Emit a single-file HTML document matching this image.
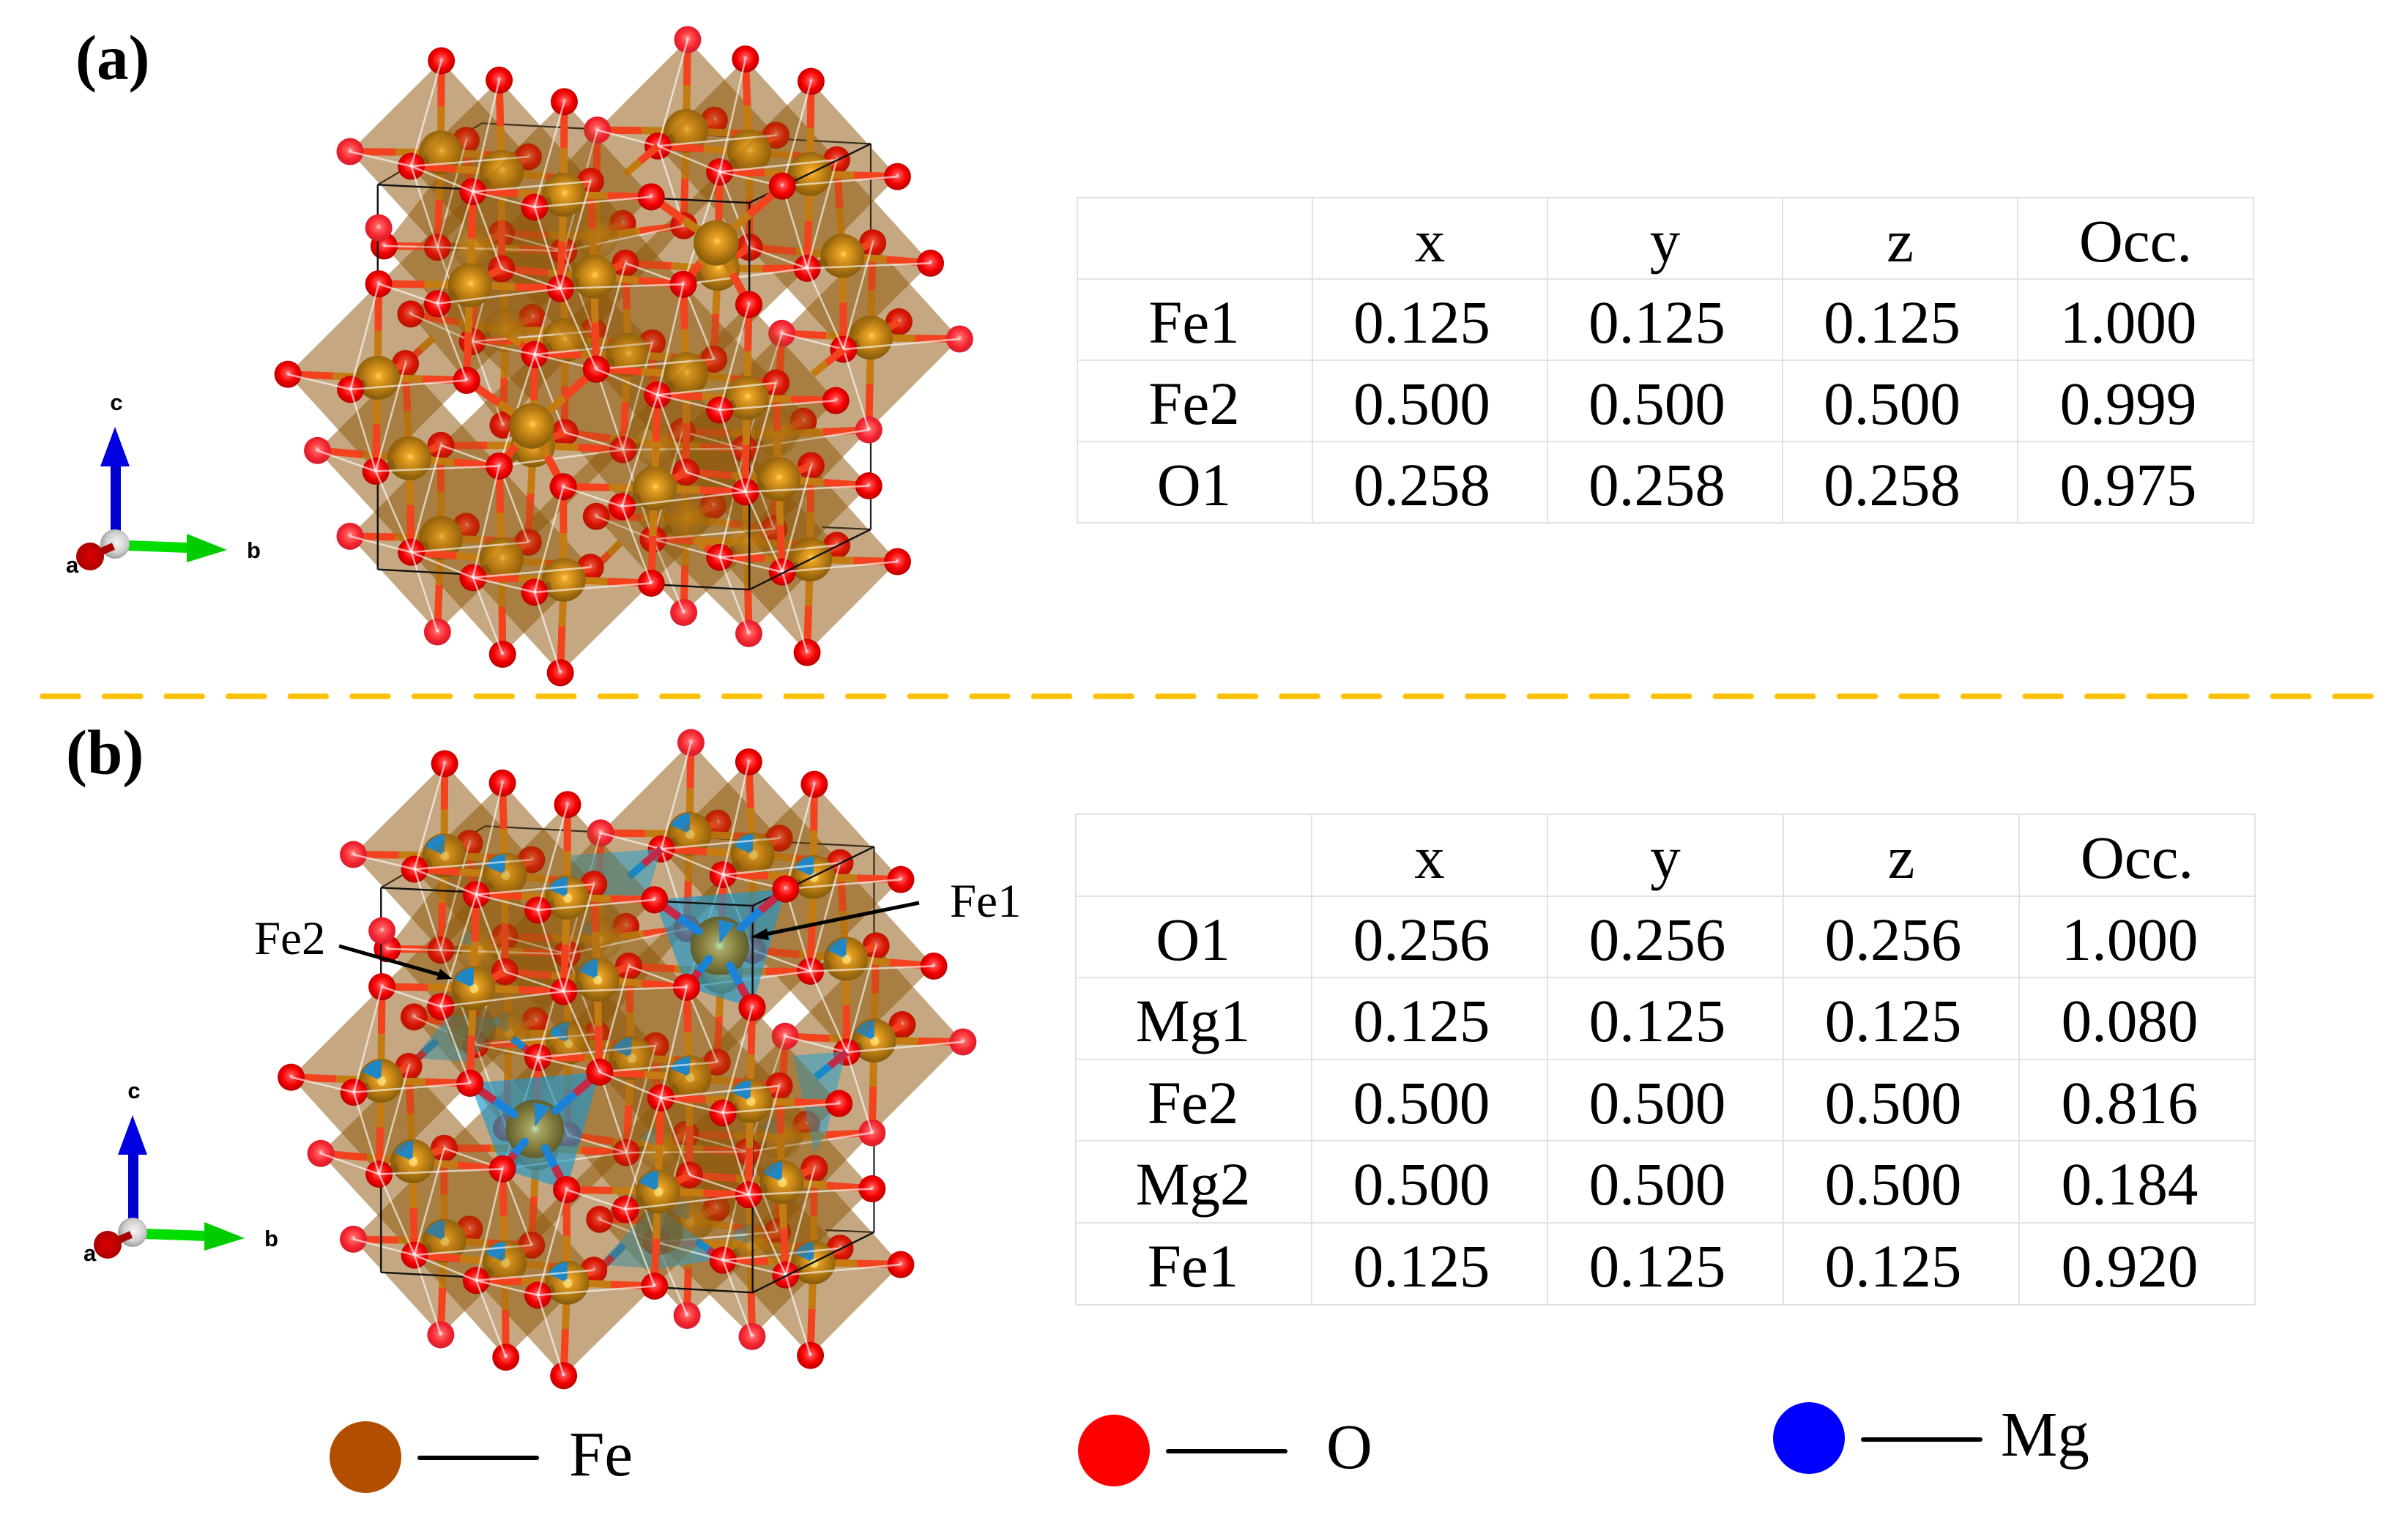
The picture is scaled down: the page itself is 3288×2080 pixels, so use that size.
<!DOCTYPE html>
<html lang="en">
<head>
<meta charset="utf-8">
<title>Crystal structures and site occupancy</title>
<style>
html,body{margin:0;padding:0;background:#fff;}
#page{position:relative;width:3288px;height:2080px;overflow:hidden;background:#fff;font-family:"Liberation Serif",serif;}
#art{position:absolute;left:0;top:0;}
table.site{position:absolute;border-collapse:collapse;table-layout:fixed;font-family:"Liberation Serif",serif;font-size:83px;color:#000;}
table.site td,table.site th{border:2px solid #e2e2e2;padding:8px 0 0 0;line-height:100px;vertical-align:top;text-align:center;font-weight:normal;overflow:hidden;white-space:nowrap;}
table.site td.v{padding-right:22px;}
table.site td.r{padding-right:2px;}
table.site td.o{padding-right:20px;}
</style>
</head>
<body>
<div id="page">
<svg id="art" width="3288" height="2080" viewBox="0 0 3288 2080" xmlns="http://www.w3.org/2000/svg">
  <defs>
    <radialGradient id="gFe" cx=".52" cy=".46" r=".58">
      <stop offset="0" stop-color="#ffd465"/><stop offset=".16" stop-color="#eaa425"/>
      <stop offset=".55" stop-color="#b97c13"/><stop offset="1" stop-color="#7a5408"/>
    </radialGradient>
    <radialGradient id="gBig" cx=".5" cy=".5" r=".55">
      <stop offset="0" stop-color="#b4ecc0"/><stop offset=".16" stop-color="#a8a868"/>
      <stop offset=".6" stop-color="#7f7a3c"/><stop offset="1" stop-color="#54552a"/>
    </radialGradient>
    <radialGradient id="gO" cx=".5" cy=".46" r=".56">
      <stop offset="0" stop-color="#ffd8d8"/><stop offset=".17" stop-color="#ff4a4a"/>
      <stop offset=".58" stop-color="#f50000"/><stop offset="1" stop-color="#b20000"/>
    </radialGradient>
    <radialGradient id="gOtip" cx=".5" cy=".46" r=".56">
      <stop offset="0" stop-color="#ffd8d8"/><stop offset=".2" stop-color="#ff6060"/>
      <stop offset=".65" stop-color="#f4222e"/><stop offset="1" stop-color="#cc2030"/>
    </radialGradient>
    <radialGradient id="gGray" cx=".55" cy=".45" r=".6">
      <stop offset="0" stop-color="#f4f4f4"/><stop offset=".6" stop-color="#cfcfcf"/><stop offset="1" stop-color="#8e8e8e"/>
    </radialGradient>
    <radialGradient id="gRed" cx=".5" cy=".5" r=".55">
      <stop offset="0" stop-color="#dd0000"/><stop offset="1" stop-color="#a80000"/>
    </radialGradient>
  </defs>

  <g id="structure-a"></g>
  <g id="structure-b"></g>

  <text x="103" y="108" font-family="Liberation Serif" font-size="87" font-weight="bold">(a)</text>
  <text x="90" y="1057" font-family="Liberation Serif" font-size="87" font-weight="bold">(b)</text>

  <line x1="58" y1="951" x2="3245" y2="951" stroke="#ffc000" stroke-width="7.5" stroke-linecap="round" stroke-dasharray="49 35.6"/>

  <g>
    <rect x="151" y="635" width="14" height="95" fill="#0000d0"/>
    <polygon points="157,583 137,637 177,637" fill="#0000e0"/>
    <polygon points="173,738 256,741 256,755 173,752" fill="#00dd00"/>
    <polygon points="255,729 310,751 255,768" fill="#00cc00"/>
    <circle cx="157" cy="743" r="20" fill="url(#gGray)"/>
    <line x1="123" y1="760" x2="155" y2="746" stroke="#a80000" stroke-width="10"/>
    <circle cx="123" cy="760" r="19" fill="url(#gRed)"/>
    <text x="159" y="560" text-anchor="middle" font-family="Liberation Sans" font-weight="bold" font-size="31">c</text>
    <text x="337" y="762" font-family="Liberation Sans" font-weight="bold" font-size="31">b</text>
    <text x="90" y="782" font-family="Liberation Sans" font-weight="bold" font-size="31">a</text>
  </g>
  <g transform="translate(24,940)">
    <rect x="151" y="635" width="14" height="95" fill="#0000d0"/>
    <polygon points="157,583 137,637 177,637" fill="#0000e0"/>
    <polygon points="173,738 256,741 256,755 173,752" fill="#00dd00"/>
    <polygon points="255,729 310,751 255,768" fill="#00cc00"/>
    <circle cx="157" cy="743" r="20" fill="url(#gGray)"/>
    <line x1="123" y1="760" x2="155" y2="746" stroke="#a80000" stroke-width="10"/>
    <circle cx="123" cy="760" r="19" fill="url(#gRed)"/>
    <text x="159" y="560" text-anchor="middle" font-family="Liberation Sans" font-weight="bold" font-size="31">c</text>
    <text x="337" y="762" font-family="Liberation Sans" font-weight="bold" font-size="31">b</text>
    <text x="90" y="782" font-family="Liberation Sans" font-weight="bold" font-size="31">a</text>
  </g>

  <g>
    <text x="347" y="1303" font-family="Liberation Serif" font-size="65">Fe2</text>
    <line x1="463" y1="1292" x2="600" y2="1331" stroke="#000" stroke-width="5"/>
    <polygon points="618,1337 596,1338 601,1323" fill="#000"/>
  </g>
  <g>
    <text x="1297" y="1252" font-family="Liberation Serif" font-size="65">Fe1</text>
    <line x1="1255" y1="1233" x2="1045" y2="1276" stroke="#000" stroke-width="5"/>
    <polygon points="1025,1280 1047,1268 1050,1284" fill="#000"/>
  </g>

  <g>
    <circle cx="499" cy="1990" r="49" fill="#b24e00"/>
    <line x1="573" y1="1991" x2="733" y2="1991" stroke="#000" stroke-width="6" stroke-linecap="round"/>
    <text x="777" y="2015" font-family="Liberation Serif" font-size="87">Fe</text>
  </g>
  <g>
    <circle cx="1521" cy="1981" r="49" fill="#ff0000"/>
    <line x1="1595" y1="1982" x2="1755" y2="1982" stroke="#000" stroke-width="6" stroke-linecap="round"/>
    <text x="1811" y="2005" font-family="Liberation Serif" font-size="87">O</text>
  </g>
  <g>
    <circle cx="2470" cy="1964" r="49" fill="#0000ff"/>
    <line x1="2544" y1="1966" x2="2704" y2="1966" stroke="#000" stroke-width="6" stroke-linecap="round"/>
    <text x="2732" y="1988" font-family="Liberation Serif" font-size="87">Mg</text>
  </g>
</svg>

<table class="site" style="left:1470px;top:269px;width:1606px;">
  <colgroup><col style="width:321px"><col style="width:321px"><col style="width:321px"><col style="width:321px"><col style="width:322px"></colgroup>
  <tr style="height:111px"><th></th><th>x</th><th>y</th><th>z</th><th>Occ.</th></tr>
  <tr style="height:111px"><td class="r">Fe1</td><td class="v">0.125</td><td class="v">0.125</td><td class="v">0.125</td><td class="o">1.000</td></tr>
  <tr style="height:111px"><td class="r">Fe2</td><td class="v">0.500</td><td class="v">0.500</td><td class="v">0.500</td><td class="o">0.999</td></tr>
  <tr style="height:111px"><td class="r">O1</td><td class="v">0.258</td><td class="v">0.258</td><td class="v">0.258</td><td class="o">0.975</td></tr>
</table>

<table class="site" style="left:1468px;top:1111px;width:1610px;">
  <colgroup><col style="width:322px"><col style="width:322px"><col style="width:322px"><col style="width:322px"><col style="width:322px"></colgroup>
  <tr style="height:112px"><th></th><th>x</th><th>y</th><th>z</th><th>Occ.</th></tr>
  <tr style="height:111px"><td class="r">O1</td><td class="v">0.256</td><td class="v">0.256</td><td class="v">0.256</td><td class="o">1.000</td></tr>
  <tr style="height:112px"><td class="r">Mg1</td><td class="v">0.125</td><td class="v">0.125</td><td class="v">0.125</td><td class="o">0.080</td></tr>
  <tr style="height:111px"><td class="r">Fe2</td><td class="v">0.500</td><td class="v">0.500</td><td class="v">0.500</td><td class="o">0.816</td></tr>
  <tr style="height:112px"><td class="r">Mg2</td><td class="v">0.500</td><td class="v">0.500</td><td class="v">0.500</td><td class="o">0.184</td></tr>
  <tr style="height:112px"><td class="r">Fe1</td><td class="v">0.125</td><td class="v">0.125</td><td class="v">0.125</td><td class="o">0.920</td></tr>
</table>
</div>

<script>
// Projected octahedral Fe sites: [x, y, depth layer (0 = nearest)].
var feOctaSites = [
  [648,418,0],[900,270,-4],[1155,370,-2],[395,320,-2],[1030,318,-3],[520,365,-1],
  [710,608,-1],[1222,560,-3],[465,539,-3],[965,590,-2],[714,515,-4],[455,628,0],
  [780,790,-2],[1280,750,-4],[1025,890,0],[528,733,-4],[265,843,0],[900,835,-1],[650,755,-3],
  [835,1100,0],[1090,1078,-1],[330,1030,-1],[585,1000,-2],[837,998,-3],[1086,974,-4],
  [648,1312,0],[900,1170,-4],[1155,1265,-2],[395,1215,-2],[1025,1225,-3],[520,1265,-1]
];
// Sites buried deep in the cluster, barely visible through the faces in front of them.
var buriedFeSites = [[465,539],[714,515],[528,733],[837,998],[1086,974],[900,1170],[1025,1225]];
var oSites = [[396,107],[515,152],[649,202],[1022,103],[1157,155],
  [334,352],[461,411],[588,447],[842,305],[828,423],[969,365],[1098,398],[1335,376],
  [267,625],[388,671],[641,636],[894,626],[1029,673],[1149,589],[1403,577],
  [80,835],[209,870],[448,849],[588,789],[715,823],[841,883],[969,918],[1224,777],[1208,896],
  [261,1060],[515,1048],[647,1096],[768,1142],[1022,1108],[1276,1094],
  [334,1248],[461,1307],[588,1341],[828,1320],[969,1260],[1098,1294],[1335,1270],
  [641,1528],[522,1485],[1149,1481],
  [447,292],[575,330],[703,387],[958,245],[1085,280],[1210,337],[388,540],[520,590],[775,577],[1284,530],[1030,540],
  [333,695],[1338,713],[322,810],[830,762],[957,800],[1085,855],[395,1000],[650,970],[770,1010],[900,1062],[1157,1047],
  [447,1188],[575,1225],[703,1283],[715,1165],[1210,1232]];
var oTipSites = [[903,58],[208,318],[717,268],[267,495],[1097,740],[1463,753],[1276,964],[141,1012],[208,1211],[388,1433],[895,1388],[1029,1437]];
var bigTetSites = [
  {c:[962,530], o:[[828,423],[1098,398],[1029,673],[894,626]]},
  {c:[582,955], o:[[448,849],[715,823],[647,1096],[515,1048]]}
];
var backTetFaces = [
  [[842,305],[655,320],[660,430],[810,425]],
  [[1222,775],[1114,785],[1157,1010],[1183,960]],
  [[332,790],[406,690],[511,700],[448,800]],
  [[712,1270],[829,1130],[971,1255],[839,1280]]
];
var backTetBonds = [
  [[842,305],[775,370]],[[1224,777],[1160,835]],[[322,810],[380,750]],[[588,789],[535,745]],
  [[969,1260],[915,1215]],[[712,1285],[765,1225]]
];
var backBigSites = [[452,722],[838,1192]];
var cellBackEdges = [
  [[265,395],[480,252]],[[480,252],[1280,300]],[[1280,300],[1280,1195]],[[1180,1190],[1280,1195]]
];
var cellFrontEdges = [
  [[265,395],[1030,437]],[[265,395],[265,1288]],[[1030,437],[1030,1335]],[[265,1288],[1030,1335]],
  [[1280,300],[1030,437]],[[1280,1195],[1030,1335]]
];
var octaOffsets = {up:[0,-213],down:[-5,220],left:[-187,-2],right:[183,10],front:[-62,32],back:[55,-30]};
var faceColor = 'rgb(142,86,10)';

var NS = 'http://www.w3.org/2000/svg';

function make(parent, tag, attrs, name){
  var el = document.createElementNS(NS, tag);
  for (var k in attrs) el.setAttribute(k, attrs[k]);
  
  
  parent.appendChild(el);
  return el;
}

// Resolve every octahedron's six vertices to oxygen sites and give each oxygen a depth layer.
var oAtoms = oSites.map(function(p){ return {x:p[0],y:p[1],d:null,tip:false}; })
  .concat(oTipSites.map(function(p){ return {x:p[0],y:p[1],d:null,tip:true}; }));
function findO(p, depth){
  var best = null, bd = 42;
  oAtoms.forEach(function(o){
    var d = Math.hypot(o.x-p[0], o.y-p[1]);
    if (d < bd){ bd = d; best = o; }
  });
  if (!best){
    best = {x:p[0],y:p[1],d:depth,tip:false};
    oAtoms.push(best);
  }
  if (best.d === null) best.d = depth;
  return best;
}
var octs = feOctaSites.map(function(s){
  var n = {}, b = s[2];
  for (var k in octaOffsets){
    var dz = k === 'front' ? 1 : (k === 'back' ? -1 : 0);
    n[k] = findO([s[0]+octaOffsets[k][0], s[1]+octaOffsets[k][1]], b+dz);
  }
  var buried = buriedFeSites.some(function(q){ return q[0] === s[0] && q[1] === s[1]; });
  return {x:s[0], y:s[1], b:b, n:n, buried:buried};
});
oAtoms.forEach(function(o){ if (o.d === null) o.d = 1; });

function drawPanel(root, dx, dy, isB){
  function mx(X){ return 340 + X/1.5077 + dx; }
  function my(Y){ return 20 + Y/1.7 + dy; }
  function P(a){ return a.length ? {x:a[0],y:a[1]} : a; }
  function pt(p){ p = P(p); return mx(p.x).toFixed(1)+','+my(p.y).toFixed(1); }
  function mid(a,b,t){ a = P(a); b = P(b); return {x:a.x+(b.x-a.x)*t, y:a.y+(b.y-a.y)*t}; }
  function line(a,b,col,w,name,extra){
    a = P(a); b = P(b);
    var at = {x1:mx(a.x),y1:my(a.y),x2:mx(b.x),y2:my(b.y),stroke:col,'stroke-width':w};
    for (var k in (extra||{})) at[k] = extra[k];
    return make(root,'line',at,name);
  }
  function quad(o, alpha){
    make(root,'polygon',{points:[o.n.up,o.n.left,o.n.down,o.n.right].map(pt).join(' '),fill:faceColor,'fill-opacity':alpha},'fe-octahedron');
  }
  function drawO(o){
    make(root,'circle',{cx:mx(o.x),cy:my(o.y),r:18.5,fill:o.tip?'url(#gOtip)':'url(#gO)'},'oxygen-atom');
  }
  function drawFe(o){
    var cx = mx(o.x), cy = my(o.y), r = 30, op = o.buried ? .4 : 1;
    make(root,'circle',{cx:cx,cy:cy,r:r,fill:'url(#gFe)',opacity:op},'fe-atom');
    if (isB){
      var a1 = -155*Math.PI/180, a2 = -88*Math.PI/180, rr = r*.93;
      make(root,'path',{d:'M'+cx+' '+cy+' L'+(cx+rr*Math.cos(a1))+' '+(cy+rr*Math.sin(a1))+
        ' A'+rr+' '+rr+' 0 0 1 '+(cx+rr*Math.cos(a2))+' '+(cy+rr*Math.sin(a2))+' Z',fill:'#2186c4',opacity:op},'mg-site-sector');
      make(root,'circle',{cx:cx+1,cy:cy+1,r:6,fill:'#ffe27a',opacity:.75*op},'fe-atom-highlight');
    }
  }

  // faint underlay of every octahedron, behind all atoms
  octs.forEach(function(o){ quad(o,.36); });
  cellBackEdges.forEach(function(e){ line(e[0],e[1],'#222',2.2,'unit-cell-edge'); });

  // painter's pass from the far layer to the near layer
  for (var L = -5; L <= 1; L++){
    var layer = octs.filter(function(o){ return o.b === L; });
    layer.forEach(function(o){ quad(o,.24); });

    if (L === -2){
      if (isB){
        backTetFaces.forEach(function(f){
          make(root,'polygon',{points:f.map(pt).join(' '),fill:'rgba(50,160,200,.6)'},'mg-tetrahedron');
        });
        backBigSites.forEach(function(p){
          make(root,'circle',{cx:mx(p[0]),cy:my(p[1]),r:33,fill:'#6d5a26',opacity:.55},'back-fe-atom');
        });
      }
      backTetBonds.forEach(function(b){
        var m = mid(b[0],b[1],.55);
        line(b[0],m,isB?'#c02a48':'#f2421e',10,'tetrahedral-bond');
        line(m,b[1],isB?'#1888c8':'#c47c12',10,'tetrahedral-bond');
      });
    }
    if (L === 0){
      if (isB){
        bigTetSites.forEach(function(t){
          make(root,'polygon',{points:t.o.map(pt).join(' '),fill:'rgba(30,150,200,.66)'},'mg-tetrahedron');
        });
      }
      cellFrontEdges.forEach(function(e){ line(e[0],e[1],'#111',2.4,'unit-cell-edge'); });
    }

    // bonds inside this layer
    layer.forEach(function(o){
      ['back','up','down','left','right'].forEach(function(k){
        var m = mid(o,o.n[k],.5);
        line(o,m,'#c47c12',10,'fe-o-bond');
        line(m,o.n[k],'#f2421e',10,'fe-o-bond');
      });
    });

    oAtoms.filter(function(a){ return a.d === L; }).forEach(drawO);
    layer.forEach(drawFe);

    // bonds toward the viewer
    layer.forEach(function(o){
      var m = mid(o,o.n.front,.45);
      line(o.n.front,m,'#8a5a10',11,'front-bond');
    });

    // large tetrahedral iron sits just in front of the nearest octahedra
    if (L === 0){
      bigTetSites.forEach(function(t){
        var R = isB ? 40 : 31, cx = mx(t.c[0]), cy = my(t.c[1]);
        if (!isB){
          t.o.forEach(function(p){
            var m = mid(p,t.c,.5);
            line(p,m,'#f2421e',11,'tetrahedral-bond');
            line(m,t.c,'#c47c12',11,'tetrahedral-bond');
          });
        }
        make(root,'circle',{cx:cx,cy:cy,r:R,fill:isB?'url(#gBig)':'url(#gFe)'},'tetrahedral-fe-atom');
        if (isB){
          make(root,'polygon',{points:cx+','+(cy-3)+' '+(cx-1)+','+(cy-R+4)+' '+(cx+21)+','+(cy-R+10),fill:'#1f88d0'},'mg-site-sector');
          t.o.forEach(function(p){
            var m = mid(p,t.c,.38), e = mid(p,t.c,.68);
            line(m,e,'#1a82d8',11,'tetrahedral-bond',{'stroke-linecap':'round'});
            line(p,m,'#c42a48',11,'tetrahedral-bond');
          });
        }
        t.o.forEach(function(p){ drawO(P(p)); });
      });
    }

    // white polyhedron edges of the octahedra one layer behind
    octs.filter(function(o){ return o.b === L-1; }).forEach(function(o){
      ['up','left','right','down'].forEach(function(k){
        line(o.n.front,o.n[k],'rgba(255,255,255,.62)',2.6,'octahedron-edge');
      });
    });
  }
}

drawPanel(document.getElementById('structure-a'), 0, 0, false);
drawPanel(document.getElementById('structure-b'), 4.5, 960, true);
</script>
</body>
</html>
